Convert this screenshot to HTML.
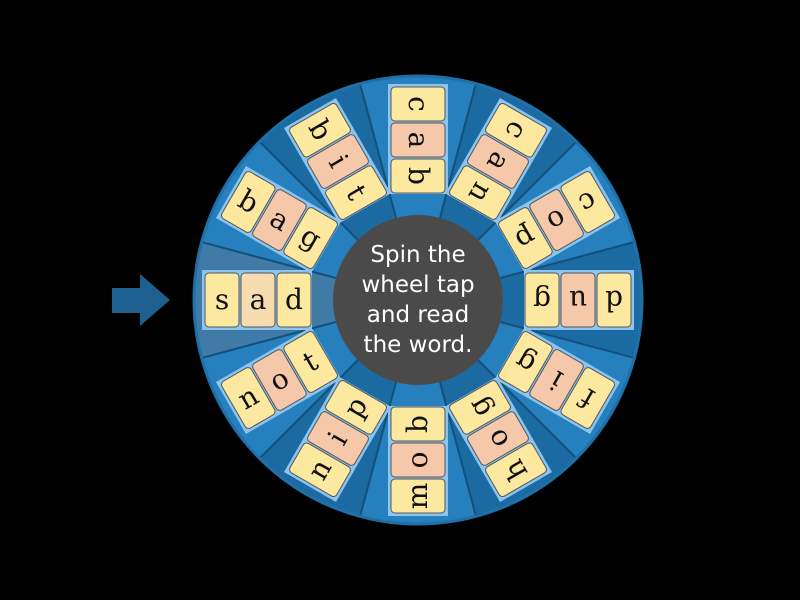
<!DOCTYPE html>
<html><head><style>html,body{margin:0;background:#000;}
.t{font-family:"DejaVu Serif","Liberation Serif",serif;font-size:28px;fill:#111;text-anchor:middle}
.y{fill:#fde89f;stroke:#555;stroke-width:1}
.p{fill:#f5c8aa;stroke:#555;stroke-width:1}
.bg{fill:#8cc4f0}
</style></head>
<body>
<svg width="800" height="600" xmlns="http://www.w3.org/2000/svg" style="display:block">
<defs>
<path id="wl" d="M0,0 L-217.3,58.2 A225,225 0 0 1 -217.3,-58.2 Z"/>
<line id="sl" x1="-82.1" y1="-22" x2="-217.3" y2="-58.2" stroke="#15507a" stroke-width="2"/>
</defs>
<rect width="800" height="600" fill="#000"/>
<polygon points="112,288 140,288 140,274 170,300 140,326 140,313 112,313" fill="#1d5f8e"/>
<g transform="translate(418,300)">
<use href="#wl" transform="rotate(90)" fill="#2580bd"/>
<use href="#wl" transform="rotate(120)" fill="#1c6aa2"/>
<use href="#wl" transform="rotate(150)" fill="#2580bd"/>
<use href="#wl" transform="rotate(180)" fill="#1c6aa2"/>
<use href="#wl" transform="rotate(210)" fill="#2580bd"/>
<use href="#wl" transform="rotate(240)" fill="#1c6aa2"/>
<use href="#wl" transform="rotate(270)" fill="#2580bd"/>
<use href="#wl" transform="rotate(300)" fill="#1c6aa2"/>
<use href="#wl" transform="rotate(330)" fill="#2580bd"/>
<use href="#wl" transform="rotate(0)" fill="#3f7ba6"/>
<use href="#wl" transform="rotate(30)" fill="#2580bd"/>
<use href="#wl" transform="rotate(60)" fill="#1c6aa2"/>
<use href="#sl" transform="rotate(0)"/><use href="#sl" transform="rotate(30)"/><use href="#sl" transform="rotate(60)"/>
<use href="#sl" transform="rotate(90)"/><use href="#sl" transform="rotate(120)"/><use href="#sl" transform="rotate(150)"/>
<use href="#sl" transform="rotate(180)"/><use href="#sl" transform="rotate(210)"/><use href="#sl" transform="rotate(240)"/>
<use href="#sl" transform="rotate(270)"/><use href="#sl" transform="rotate(300)"/><use href="#sl" transform="rotate(330)"/>
<circle r="224" fill="none" stroke="#1f70a8" stroke-width="3"/>

<g transform="rotate(90)"><rect class="bg" x="-216" y="-30" width="110" height="60"/><rect class="y" x="-213" y="-27" width="34" height="54" rx="4"/><rect class="p" x="-177" y="-27" width="34" height="54" rx="4"/><rect class="y" x="-141" y="-27" width="34" height="54" rx="4"/><text class="t" x="-196" y="9">c</text><text class="t" x="-160" y="9">a</text><text class="t" x="-124" y="9">b</text></g>
<g transform="rotate(120)"><rect class="bg" x="-216" y="-30" width="110" height="60"/><rect class="y" x="-213" y="-27" width="34" height="54" rx="4"/><rect class="p" x="-177" y="-27" width="34" height="54" rx="4"/><rect class="y" x="-141" y="-27" width="34" height="54" rx="4"/><text class="t" x="-196" y="9">c</text><text class="t" x="-160" y="9">a</text><text class="t" x="-124" y="9">n</text></g>
<g transform="rotate(150)"><rect class="bg" x="-216" y="-30" width="110" height="60"/><rect class="y" x="-213" y="-27" width="34" height="54" rx="4"/><rect class="p" x="-177" y="-27" width="34" height="54" rx="4"/><rect class="y" x="-141" y="-27" width="34" height="54" rx="4"/><text class="t" x="-196" y="9">c</text><text class="t" x="-160" y="9">o</text><text class="t" x="-124" y="9">p</text></g>
<g transform="rotate(180)"><rect class="bg" x="-216" y="-30" width="110" height="60"/><rect class="y" x="-213" y="-27" width="34" height="54" rx="4"/><rect class="p" x="-177" y="-27" width="34" height="54" rx="4"/><rect class="y" x="-141" y="-27" width="34" height="54" rx="4"/><text class="t" x="-196" y="9">d</text><text class="t" x="-160" y="9">u</text><text class="t" x="-124" y="9">g</text></g>
<g transform="rotate(210)"><rect class="bg" x="-216" y="-30" width="110" height="60"/><rect class="y" x="-213" y="-27" width="34" height="54" rx="4"/><rect class="p" x="-177" y="-27" width="34" height="54" rx="4"/><rect class="y" x="-141" y="-27" width="34" height="54" rx="4"/><text class="t" x="-196" y="9">f</text><text class="t" x="-160" y="9">i</text><text class="t" x="-124" y="9">g</text></g>
<g transform="rotate(240)"><rect class="bg" x="-216" y="-30" width="110" height="60"/><rect class="y" x="-213" y="-27" width="34" height="54" rx="4"/><rect class="p" x="-177" y="-27" width="34" height="54" rx="4"/><rect class="y" x="-141" y="-27" width="34" height="54" rx="4"/><text class="t" x="-196" y="9">h</text><text class="t" x="-160" y="9">o</text><text class="t" x="-124" y="9">g</text></g>
<g transform="rotate(270)"><rect class="bg" x="-216" y="-30" width="110" height="60"/><rect class="y" x="-213" y="-27" width="34" height="54" rx="4"/><rect class="p" x="-177" y="-27" width="34" height="54" rx="4"/><rect class="y" x="-141" y="-27" width="34" height="54" rx="4"/><text class="t" x="-196" y="9">m</text><text class="t" x="-160" y="9">o</text><text class="t" x="-124" y="9">b</text></g>
<g transform="rotate(300)"><rect class="bg" x="-216" y="-30" width="110" height="60"/><rect class="y" x="-213" y="-27" width="34" height="54" rx="4"/><rect class="p" x="-177" y="-27" width="34" height="54" rx="4"/><rect class="y" x="-141" y="-27" width="34" height="54" rx="4"/><text class="t" x="-196" y="9">n</text><text class="t" x="-160" y="9">i</text><text class="t" x="-124" y="9">p</text></g>
<g transform="rotate(330)"><rect class="bg" x="-216" y="-30" width="110" height="60"/><rect class="y" x="-213" y="-27" width="34" height="54" rx="4"/><rect class="p" x="-177" y="-27" width="34" height="54" rx="4"/><rect class="y" x="-141" y="-27" width="34" height="54" rx="4"/><text class="t" x="-196" y="9">n</text><text class="t" x="-160" y="9">o</text><text class="t" x="-124" y="9">t</text></g>
<g transform="rotate(0)"><rect class="bg" x="-216" y="-30" width="110" height="60"/><rect class="y" x="-213" y="-27" width="34" height="54" rx="4"/><rect class="y" x="-177" y="-27" width="34" height="54" rx="4" style="fill:#f7dcb0"/><rect class="y" x="-141" y="-27" width="34" height="54" rx="4"/><text class="t" x="-196" y="9">s</text><text class="t" x="-160" y="9">a</text><text class="t" x="-124" y="9">d</text></g>
<g transform="rotate(30)"><rect class="bg" x="-216" y="-30" width="110" height="60"/><rect class="y" x="-213" y="-27" width="34" height="54" rx="4"/><rect class="p" x="-177" y="-27" width="34" height="54" rx="4"/><rect class="y" x="-141" y="-27" width="34" height="54" rx="4"/><text class="t" x="-196" y="9">b</text><text class="t" x="-160" y="9">a</text><text class="t" x="-124" y="9">g</text></g>
<g transform="rotate(60)"><rect class="bg" x="-216" y="-30" width="110" height="60"/><rect class="y" x="-213" y="-27" width="34" height="54" rx="4"/><rect class="p" x="-177" y="-27" width="34" height="54" rx="4"/><rect class="y" x="-141" y="-27" width="34" height="54" rx="4"/><text class="t" x="-196" y="9">b</text><text class="t" x="-160" y="9">i</text><text class="t" x="-124" y="9">t</text></g>

<circle r="85" fill="#4a4a4a"/>
</g>
<g font-family="DejaVu Sans, Liberation Sans, sans-serif" font-size="23" fill="#fff" text-anchor="middle">
<text x="418" y="262">Spin the</text>
<text x="418" y="292">wheel tap</text>
<text x="418" y="322">and read</text>
<text x="418" y="352">the word.</text>
</g>
</svg>
</body></html>
